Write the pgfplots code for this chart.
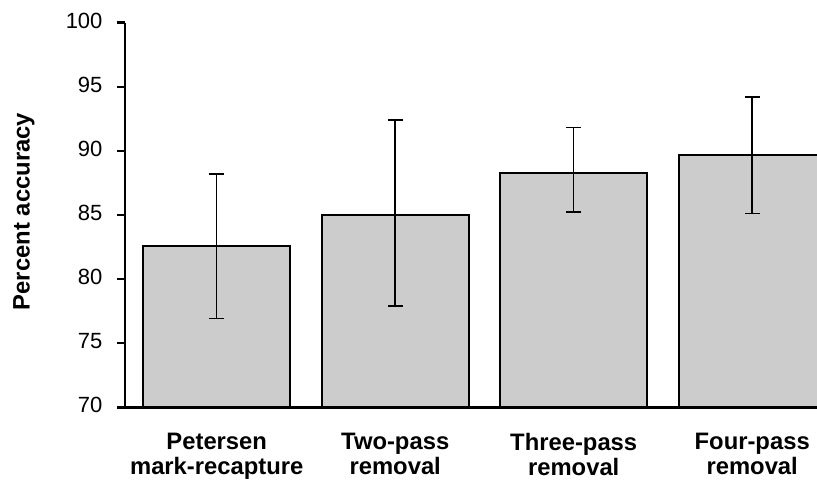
\documentclass[border=0pt]{standalone}
\usepackage{fontspec}
\setmainfont{Liberation Sans}
\usepackage{pgfplots}
\pgfplotsset{compat=1.18}
\definecolor{barfill}{RGB}{204,204,204}
\begin{document}
\begin{tikzpicture}
\begin{axis}[
  at={(0,0)}, anchor=south west,
  scale only axis,
  width=692pt, height=384.6pt,
  xmin=-0.514, xmax=3.363,
  ymin=70, ymax=100,
  ytick={70,75,80,85,90,95,100},
  xtick={0,1,2,3},
  xticklabels={{\strut Petersen\\\strut mark-recapture},{\strut Two-pass\\\strut removal},{\strut Three-pass\\\strut removal},{\strut Four-pass\\\strut removal}},
  x tick label style={anchor=north, align=center, font=\bfseries\fontsize{23.8}{23.3}\selectfont, yshift=-14.5pt},
  y tick label style={anchor=east, font=\fontsize{22}{24}\selectfont, xshift=-11pt, yshift=2pt},
  /pgf/number format/assume math mode=true,
  axis x line*=bottom, axis y line*=left,
  axis line style={line width=2.5pt, -},
  axis on top,
  xtick style={draw=none},
  ytick style={line width=2.5pt, black},
  ytick align=outside,
  major tick length=8pt,
  ylabel={Percent accuracy},
  ylabel style={at={(axis description cs:-0.1460,0.509)}, anchor=center, font=\bfseries\fontsize{23.8}{24}\selectfont},
  ybar, bar width=147pt,
  clip=true,
]
\addplot[fill=barfill, draw=black, line width=1.8pt,
  error bars/.cd, y dir=both, y explicit,
  error bar style={line width=1.5pt, black},
  error mark options={rotate=90, mark size=7.5pt, line width=1.5pt, black}]
  coordinates {
  (0,82.58) += (0,5.62) -= (0,5.65)
  (1,85.02) += (0,7.39) -= (0,7.11)
  (2,88.28) += (0,3.53) -= (0,3.05)
  (3,89.70) += (0,4.50) -= (0,4.57)
  };
\end{axis}
\pgfresetboundingbox
\path[use as bounding box] (-125pt,-77.7pt) rectangle (692pt,407.3pt);
\end{tikzpicture}
\end{document}
